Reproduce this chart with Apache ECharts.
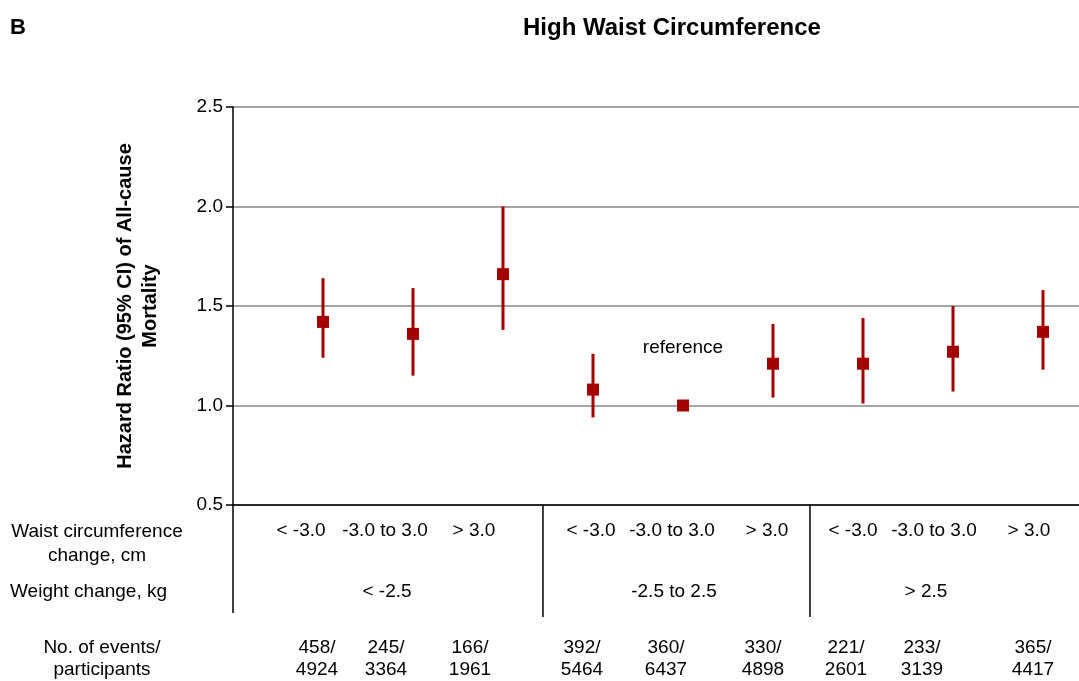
<!DOCTYPE html>
<html>
<head>
<meta charset="utf-8">
<script src="https://cdn.jsdelivr.net/npm/echarts@6/dist/echarts.min.js"></script>
<style>html,body{margin:0;padding:0;background:#fff}#c{width:1079px;height:681px}</style>
</head>
<body>
<div id="c"></div>
<script>
// ---- data ----
const waistCats = ['< -3.0', '-3.0 to 3.0', '> 3.0'];
const weightGroups = ['< -2.5', '-2.5 to 2.5', '> 2.5'];
const hr = [1.42, 1.36, 1.66, 1.08, 1.00, 1.21, 1.21, 1.27, 1.37];
const ciLow = [1.24, 1.15, 1.38, 0.94, null, 1.04, 1.01, 1.07, 1.18];
const ciHigh = [1.64, 1.59, 2.00, 1.26, null, 1.41, 1.44, 1.50, 1.58];
const events = [458, 245, 166, 392, 360, 330, 221, 233, 365];
const participants = [4924, 3364, 1961, 5464, 6437, 4898, 2601, 3139, 4417];
const yTicks = [0.5, 1.0, 1.5, 2.0, 2.5];
const referenceIndex = 4;

// ---- layout constants ----
const FONT = '"Liberation Sans", Arial, sans-serif';
const RED = '#a50000';
const waistShift = [-22, -28, -29, -2, -11, -6, -10, -19, -14];
const countShift = [-6, -27, -33, -11, -17, -10, -17, -31, -10];
const groupShift = [-26, -9, -27];
const dividerPos = [3.444, 6.411];

const chart = echarts.init(document.getElementById('c'));
const xs = hr.map((_, i) => i + 1);

const option = {
  animation: false,
  textStyle: { fontFamily: FONT },
  title: [
    { text: 'High Waist Circumference', left: 523, top: 16, padding: 0,
      textStyle: { fontFamily: FONT, fontSize: 24, fontWeight: 'bold', color: '#000' } },
    { text: 'B', left: 10, top: 17, padding: 0,
      textStyle: { fontFamily: FONT, fontSize: 22, fontWeight: 'bold', color: '#000' } }
  ],
  grid: { left: 233, right: 0, top: 107, bottom: 176 },
  xAxis: {
    type: 'value', min: 0, max: 9.4, z: 5,
    axisLine: { show: true, onZero: false, lineStyle: { color: '#000', width: 1.5 } },
    axisTick: { show: false }, axisLabel: { show: false }, splitLine: { show: false }
  },
  yAxis: {
    type: 'value', min: yTicks[0], max: yTicks[yTicks.length - 1], interval: 0.5,
    axisLine: { show: true, lineStyle: { color: '#000', width: 1.5 } },
    axisTick: { show: true, length: 7, lineStyle: { color: '#000', width: 1.5 } },
    axisLabel: { fontFamily: FONT, fontSize: 19, color: '#000', margin: 10,
      formatter: v => v.toFixed(1) },
    splitLine: { show: true, lineStyle: { color: '#a6a6a6', width: 2 } },
    name: 'Hazard Ratio (95% CI) of All-cause\nMortality',
    nameLocation: 'middle', nameRotate: 90, nameGap: 70,
    nameTextStyle: { fontFamily: FONT, fontSize: 20, fontWeight: 'bold', color: '#000', lineHeight: 25, align: 'center' }
  },
  series: [
    {
      type: 'custom', z: 3,
      data: xs.map((x, i) => [x, ciLow[i], ciHigh[i]]).filter(d => d[1] != null),
      renderItem: function (params, api) {
        const p1 = api.coord([api.value(0), api.value(1)]);
        const p2 = api.coord([api.value(0), api.value(2)]);
        return { type: 'line', shape: { x1: p1[0], y1: p1[1], x2: p2[0], y2: p2[1] },
          style: { stroke: RED, lineWidth: 3 } };
      }
    },
    {
      type: 'scatter', z: 4, symbol: 'rect', symbolSize: 12,
      itemStyle: { color: RED, opacity: 1 },
      data: xs.map((x, i) => [x, hr[i]])
    }
  ]
};
chart.setOption(option);

// ---- table & annotations placed via the chart's own scales ----
const px = (x, y) => chart.convertToPixel({ gridIndex: 0 }, [x, y]);
const yBase = px(0, yTicks[0])[1];
const g = [];
const txt = (text, x, y, opts) => Object.assign({
  type: 'text', z: 10,
  style: Object.assign({ text, x, y, fill: '#000', font: '19px ' + FONT,
    align: 'center', verticalAlign: 'middle', lineHeight: 22 }, opts || {})
});

// axis extension & dividers
const x0 = px(0, yTicks[0])[0];
g.push({ type: 'line', z: 10, shape: { x1: x0, y1: yBase, x2: x0, y2: yBase + 108 },
  style: { stroke: '#000', lineWidth: 1.5 } });
dividerPos.forEach(d => {
  const xx = px(d, yTicks[0])[0];
  g.push({ type: 'line', z: 10, shape: { x1: xx, y1: yBase, x2: xx, y2: yBase + 112 },
    style: { stroke: '#000', lineWidth: 1.5 } });
});

// row labels
g.push(txt('Waist circumference\nchange, cm', 97, yBase + 39, { lineHeight: 24 }));
g.push(txt('Weight change, kg', 10, yBase + 87, { align: 'left' }));
g.push(txt('No. of events/\nparticipants', 102, yBase + 154, { lineHeight: 22 }));

xs.forEach((x, i) => {
  const cx = px(x, 1)[0];
  g.push(txt(waistCats[i % 3], cx + waistShift[i], yBase + 26));
  g.push(txt(events[i] + '/\n' + participants[i], cx + countShift[i], yBase + 154, { lineHeight: 22 }));
});
weightGroups.forEach((w, k) => {
  const cx = px(xs[k * 3 + 1], 1)[0];
  g.push(txt(w, cx + groupShift[k], yBase + 87));
});

// reference annotation
const rp = px(xs[referenceIndex], hr[referenceIndex]);
g.push(txt('reference', rp[0], rp[1] - 58));

chart.setOption({ graphic: g });
</script>
</body>
</html>
